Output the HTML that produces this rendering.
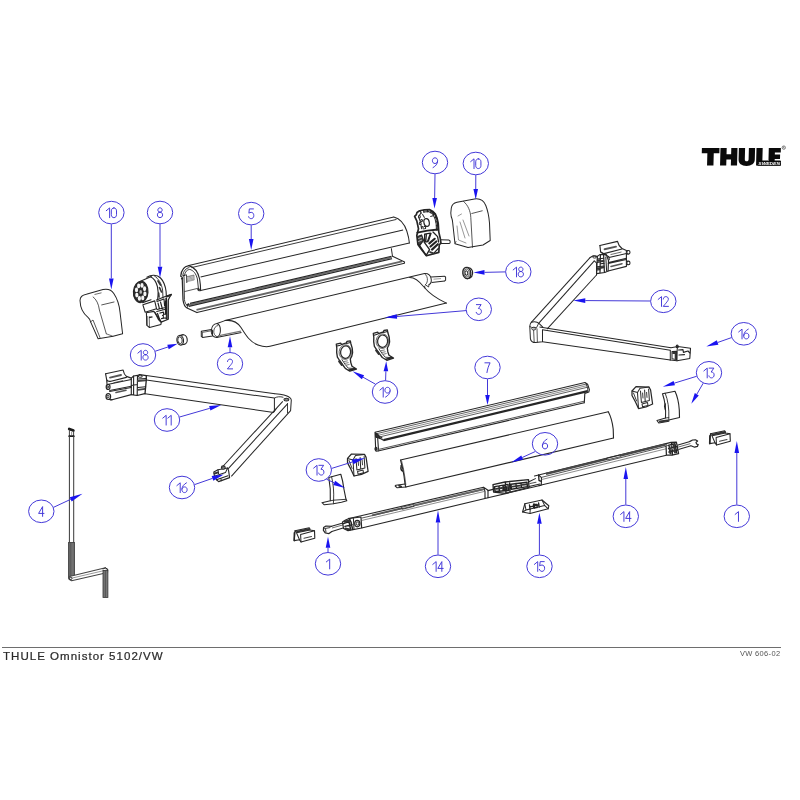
<!DOCTYPE html>
<html><head><meta charset="utf-8"><title>THULE Omnistor 5102/VW</title>
<style>
html,body{margin:0;padding:0;background:#fff;}
body{width:800px;height:800px;overflow:hidden;position:relative;font-family:"Liberation Sans",sans-serif;}
svg{position:absolute;left:0;top:0;display:block;filter:blur(0.3px);}
.cap{position:absolute;left:3px;top:651.3px;font-size:10.3px;line-height:12px;color:#2a2a2a;-webkit-text-stroke:0.2px #2a2a2a;letter-spacing:0.9px;white-space:nowrap;transform:scaleX(1.12);transform-origin:0 0;}
.code{position:absolute;left:740.3px;top:650px;font-size:6.8px;line-height:8px;color:#555;letter-spacing:0.3px;white-space:nowrap;transform:scaleX(1.1);transform-origin:0 0;}
</style></head><body>
<svg width="800" height="800" viewBox="0 0 800 800">
<g transform="translate(701.7 148.0) skewX(-1.5) translate(0.2 0)" fill="#0a0a0a">
<path d="M0 0H17.6V5.2H12V17.6H5.6V5.2H0Z"/>
<path d="M18.6 0H24.8V6.2H29.4V0H35.6V17.6H29.4V11.4H24.8V17.6H18.6Z"/>
<path d="M37 0H43.2V11.2C43.2 12.6 43.9 13.2 45.1 13.2C46.3 13.2 47 12.6 47 11.2V0H53.2V11.6C53.2 15.6 50.2 17.9 45.1 17.9C40 17.9 37 15.6 37 11.6Z"/>
<path d="M54.6 0H60.8V12.6H66.5V17.6H54.6Z"/>
<path d="M66.9 0H79V4.6H73.1V6.6H78.4V10.9H73.1V12.4H79V17.6H66.9Z"/>
<rect x="56" y="13.1" width="23.4" height="4.6" fill="#0a0a0a"/>
<text x="56.9" y="16.95" font-family="Liberation Sans, sans-serif" font-size="4.3" font-weight="bold" font-style="italic" fill="#fff" textLength="21.6" lengthAdjust="spacingAndGlyphs">SWEDEN</text>
</g>
<ellipse cx="783.8" cy="147.6" rx="1.7" ry="1.7" fill="none" stroke="#333" stroke-width="0.56"/>
<path d="M783.2 148.5v-1.8h0.7c0.5 0 0.5 0.8 0 0.8h-0.7m0.7 0l0.5 1" stroke="#333" stroke-width="0.35" fill="none"/>
<line x1="188.8" y1="265.6" x2="393.8" y2="216.9" stroke="#262626" stroke-width="1.01" />
<line x1="191.5" y1="267.6" x2="396.5" y2="219.4" stroke="#262626" stroke-width="0.9" />
<line x1="200.6" y1="276.9" x2="403.1" y2="230" stroke="#262626" stroke-width="1.01" />
<line x1="200.6" y1="290.6" x2="409.4" y2="243.1" stroke="#262626" stroke-width="1.01" />
<line x1="188.8" y1="306.2" x2="392" y2="258.6" stroke="#262626" stroke-width="1.46" />
<line x1="189.4" y1="304.9" x2="391.8" y2="257.4" stroke="#6a6a6a" stroke-width="1.79" />
<line x1="190" y1="303.4" x2="391.5" y2="256.2" stroke="#262626" stroke-width="1.12" />
<line x1="196.5" y1="309.8" x2="402" y2="261.4" stroke="#666" stroke-width="1.9" />
<line x1="196.9" y1="312.5" x2="404.4" y2="263.2" stroke="#262626" stroke-width="1.01" />
<path d="M393.8 216.9C400 218.5 404.5 224 406.8 231C408.4 236 409.2 240 409.4 243.1" fill="none" stroke="#262626" stroke-width="1.01" stroke-linejoin="round" stroke-linecap="round"/>
<line x1="391.3" y1="248.3" x2="392.5" y2="256.3" stroke="#262626" stroke-width="1.01" />
<path d="M392.5 256.3L404.6 262 404.4 263.2" fill="none" stroke="#262626" stroke-width="1.01" stroke-linejoin="round" stroke-linecap="round"/>
<path d="M188.8 265.6C184.5 266.3 181.2 270 180.7 276.3L182.2 277.2 183 300C183.6 304 185 307 187 308L196.9 312.5" fill="none" stroke="#262626" stroke-width="1.23" stroke-linejoin="round" stroke-linecap="round"/>
<path d="M189 267.6C186 268.2 183.3 271 182.8 275.6L184 276.4 184.4 299.6C184.9 302.6 185.8 304.6 187.2 305.6" fill="none" stroke="#262626" stroke-width="0.9" stroke-linejoin="round" stroke-linecap="round"/>
<path d="M188.8 265.6C194 267 198 271.5 199.6 279C200.3 283 200.6 287 200.6 290.6" fill="none" stroke="#262626" stroke-width="1.12" stroke-linejoin="round" stroke-linecap="round"/>
<path d="M184.4 275.8C185 271.5 187 269.8 189.8 269.4C193.5 270.5 196 273.5 197.4 279L198.4 288.4C198.6 290.8 199.6 291.6 200.6 290.6" fill="none" stroke="#262626" stroke-width="0.9" stroke-linejoin="round" stroke-linecap="round"/>
<line x1="182.8" y1="275.6" x2="186.5" y2="274.8" stroke="#262626" stroke-width="0.9" />
<line x1="186.5" y1="274.8" x2="186.8" y2="283" stroke="#262626" stroke-width="0.9" />
<line x1="181" y1="278.8" x2="183" y2="278.4" stroke="#262626" stroke-width="1.34" />
<line x1="187.3" y1="277" x2="193.8" y2="275.5" stroke="#555" stroke-width="0.56" />
<line x1="187.3" y1="278.2" x2="193.8" y2="276.7" stroke="#555" stroke-width="0.56" />
<line x1="187.3" y1="279.4" x2="193.8" y2="277.9" stroke="#555" stroke-width="0.56" />
<line x1="187.3" y1="280.6" x2="193.8" y2="279.1" stroke="#555" stroke-width="0.56" />
<polygon points="187,276.6 194,275 194.2,280 187.2,281.6" fill="none" stroke="#555" stroke-width="0.56" stroke-linejoin="round" stroke-linecap="round"/>
<line x1="184.4" y1="291.6" x2="198.4" y2="288.2" stroke="#262626" stroke-width="0.78" />
<ellipse cx="198.6" cy="289.6" rx="0.9" ry="1" fill="#333" stroke="#262626" stroke-width="0.9"/>
<line x1="186.6" y1="305.4" x2="189" y2="303.8" stroke="#262626" stroke-width="1.79" />
<line x1="187" y1="308" x2="189" y2="303.8" stroke="#262626" stroke-width="0.9" />
<polygon points="201.3,331.3 211.5,329.6 212.5,330.6 212.5,336 202.5,337.4 201.3,336.4" fill="none" stroke="#262626" stroke-width="1.01" stroke-linejoin="round" stroke-linecap="round"/>
<line x1="202.5" y1="332.4" x2="212.5" y2="330.6" stroke="#262626" stroke-width="0.67" />
<line x1="202.5" y1="332.4" x2="202.5" y2="337.4" stroke="#262626" stroke-width="0.67" />
<line x1="201.3" y1="331.3" x2="202.5" y2="332.4" stroke="#262626" stroke-width="0.67" />
<path d="M216.5 337.5C212.5 337 211 333.5 211.3 330.5C211.7 326.5 214 323.8 217 323.5L225 320.6" fill="none" stroke="#262626" stroke-width="1.01" stroke-linejoin="round" stroke-linecap="round"/>
<path d="M217.5 337C214.6 336 213.5 333.4 213.8 331C214.1 328 215.5 326 217.6 325.6" fill="none" stroke="#262626" stroke-width="0.78" stroke-linejoin="round" stroke-linecap="round"/>
<path d="M217 323.5C219.5 324.5 220.6 327.5 220.4 331C220.2 334 219 336.5 216.5 337.5" fill="none" stroke="#262626" stroke-width="1.01" stroke-linejoin="round" stroke-linecap="round"/>
<line x1="216.5" y1="337.5" x2="241.5" y2="332.6" stroke="#262626" stroke-width="1.01" />
<line x1="218" y1="335.8" x2="241" y2="331.2" stroke="#777" stroke-width="1.34" />
<line x1="225" y1="320.6" x2="407.5" y2="277.5" stroke="#262626" stroke-width="1.01" />
<path d="M225 320.6C232 319.6 237 321.5 241 327.5C246 335.5 250 342 258 345C263 346.8 267 347 270 346.3L446.4 303.1" fill="none" stroke="#262626" stroke-width="1.01" stroke-linejoin="round" stroke-linecap="round"/>
<path d="M409.5 277.6C415 277.4 419 281 423.7 286.8C428 292 434 297.6 446.4 303.1" fill="none" stroke="#262626" stroke-width="1.01" stroke-linejoin="round" stroke-linecap="round"/>
<path d="M407.5 277.5L424.5 273.6C428 273.4 430.6 275.6 431.2 279C431.6 281.6 430.8 283.8 429 284.6" fill="none" stroke="#262626" stroke-width="1.01" stroke-linejoin="round" stroke-linecap="round"/>
<path d="M424.5 273.6C426.6 275 427.6 277.6 427.4 280.4C427.2 282.6 426.4 284 425.4 284.8" fill="none" stroke="#262626" stroke-width="0.78" stroke-linejoin="round" stroke-linecap="round"/>
<line x1="431" y1="276.9" x2="444.6" y2="276.3" stroke="#262626" stroke-width="1.01" />
<line x1="431.6" y1="282.6" x2="444.8" y2="280.9" stroke="#262626" stroke-width="1.01" />
<polyline points="444.6,276.3 445.6,277 445.6,280.2 444.8,280.9" fill="none" stroke="#262626" stroke-width="1.01" stroke-linejoin="round" stroke-linecap="round"/>
<line x1="433.5" y1="279.2" x2="441" y2="278.6" stroke="#666" stroke-width="0.67" />
<path d="M425.4 284.8L428.6 287 429 284.6M424.6 286.2L425 288.2" fill="none" stroke="#262626" stroke-width="0.9" stroke-linejoin="round" stroke-linecap="round"/>
<path d="M80 300.6C80 296.5 83 294.8 86.3 294.2L103 289.6C108 288.6 111.5 290 113.8 293.5C117.5 299 119.3 305 120 312L122.6 333.8 113.1 336.3 98.1 338.8 90.6 321.9C90.3 319.5 89.5 318.5 88 317.3C83.5 314 80.3 309 80 300.6Z" fill="none" stroke="#262626" stroke-width="1.01" stroke-linejoin="round" stroke-linecap="round"/>
<path d="M93.1 296.9C96.5 299.5 98.6 304 99.4 310L106.3 333.8" fill="none" stroke="#262626" stroke-width="0.78" stroke-linejoin="round" stroke-linecap="round"/>
<line x1="101.3" y1="305" x2="114.4" y2="301.9" stroke="#262626" stroke-width="0.78" />
<line x1="94.5" y1="294.5" x2="101.5" y2="292.8" stroke="#262626" stroke-width="0.67" />
<path d="M90.6 321.9L93 320 100 337.6" fill="none" stroke="#262626" stroke-width="0.78" stroke-linejoin="round" stroke-linecap="round"/>
<line x1="106.3" y1="333.8" x2="113.1" y2="336.3" stroke="#262626" stroke-width="0.67" />
<path d="M451.3 208C451.8 204.5 454 203 457 202.3L474.5 198.9C480 198.2 483.8 200.5 485.8 205.5C488 211 489 217 489.5 223L490.2 240.5 483 245 468 247.6 455 243.8 452.6 222C452.5 219.5 451.8 218.5 451.2 216.5C450.6 214 450.8 211 451.3 208Z" fill="none" stroke="#262626" stroke-width="1.01" stroke-linejoin="round" stroke-linecap="round"/>
<path d="M463.5 201.4C468 205 470.5 211 470.8 217.5L472.5 247.3" fill="none" stroke="#262626" stroke-width="0.78" stroke-linejoin="round" stroke-linecap="round"/>
<line x1="471.4" y1="213.6" x2="482.6" y2="210.7" stroke="#262626" stroke-width="0.78" />
<path d="M458 216L461.5 214M460 222L465 238M463 220L469 236M457 226L458.5 240L466 243" fill="none" stroke="#666" stroke-width="0.67" stroke-linejoin="round" stroke-linecap="round"/>
<line x1="455" y1="243.8" x2="456.2" y2="241" stroke="#262626" stroke-width="0.67" />
<path d="M146.9 277.2C149.5 275.6 152 275.2 153.9 275.3C157 275.5 159 276.5 160.5 278C163.5 281 165.3 285.5 166.1 291.5L166.4 297" fill="none" stroke="#262626" stroke-width="1.12" stroke-linejoin="round" stroke-linecap="round"/>
<path d="M150.5 276.8C153.5 278 156 281.5 157.4 286.5C158.3 290 158.5 295 157.6 300" fill="none" stroke="#262626" stroke-width="1.12" stroke-linejoin="round" stroke-linecap="round"/>
<path d="M154.5 276C158.5 278.5 161.5 283.5 162.6 290L163 298" fill="none" stroke="#262626" stroke-width="0.9" stroke-linejoin="round" stroke-linecap="round"/>
<path d="M158 281L160.5 285M159.5 287.5L161.5 292M158.6 293L159 297" fill="none" stroke="#333" stroke-width="1.68" stroke-linejoin="round" stroke-linecap="round"/>
<path d="M139.9 281.4L151.3 276.6" fill="none" stroke="#262626" stroke-width="1.12" stroke-linejoin="round" stroke-linecap="round"/>
<path d="M142.6 302.6L151 299.8" fill="none" stroke="#262626" stroke-width="1.12" stroke-linejoin="round" stroke-linecap="round"/>
<ellipse cx="140.7" cy="291.9" rx="7.3" ry="10.7" fill="#2b2b2b" stroke="#262626" stroke-width="1.12" transform="rotate(4 140.7 291.9)"/>
<ellipse cx="144.9" cy="293.91" rx="1.6" ry="2.4" fill="#f6f6f6" stroke="none" stroke-width="0.0"/>
<ellipse cx="142.75" cy="297.91" rx="1.6" ry="2.4" fill="#f6f6f6" stroke="none" stroke-width="0.0"/>
<ellipse cx="139.4" cy="298.4" rx="1.6" ry="2.4" fill="#f6f6f6" stroke="none" stroke-width="0.0"/>
<ellipse cx="136.81" cy="295.07" rx="1.6" ry="2.4" fill="#f6f6f6" stroke="none" stroke-width="0.0"/>
<ellipse cx="136.5" cy="289.89" rx="1.6" ry="2.4" fill="#f6f6f6" stroke="none" stroke-width="0.0"/>
<ellipse cx="138.65" cy="285.89" rx="1.6" ry="2.4" fill="#f6f6f6" stroke="none" stroke-width="0.0"/>
<ellipse cx="142" cy="285.4" rx="1.6" ry="2.4" fill="#f6f6f6" stroke="none" stroke-width="0.0"/>
<ellipse cx="144.59" cy="288.73" rx="1.6" ry="2.4" fill="#f6f6f6" stroke="none" stroke-width="0.0"/>
<ellipse cx="140.7" cy="291.9" rx="1.3" ry="1.9" fill="#bbb" stroke="none" stroke-width="0.0"/>
<polygon points="142.9,304.8 154.7,300.9 156.5,308.7 145.1,312.2" fill="#fff" stroke="#262626" stroke-width="1.12" stroke-linejoin="round" stroke-linecap="round"/>
<polygon points="146.4,312.7 153.9,311.4 161.3,321.9 160.9,324.5 149.5,327.5 146.9,325.4" fill="#fff" stroke="#262626" stroke-width="1.12" stroke-linejoin="round" stroke-linecap="round"/>
<line x1="146.9" y1="325.4" x2="147" y2="316" stroke="#262626" stroke-width="0.9" />
<line x1="149.5" y1="327.5" x2="149.2" y2="316.5" stroke="#262626" stroke-width="0.67" />
<line x1="149" y1="317.5" x2="152.5" y2="316.8" stroke="#262626" stroke-width="1.34" />
<path d="M156.5 300L166.5 296 171.4 294.3 169.8 296.8 168.3 300 168.3 319.2 161.7 321.9" fill="none" stroke="#262626" stroke-width="1.23" stroke-linejoin="round" stroke-linecap="round"/>
<path d="M157 301.5L164 299M164 299L164.6 306M158 303L159.5 309M160.5 302L162.4 309M157 309.5L165.5 307.5M165.5 301L165.5 318" fill="none" stroke="#222" stroke-width="1.12" stroke-linejoin="round" stroke-linecap="round"/>
<path d="M166.2 298.5L166.8 318.6" fill="none" stroke="#222" stroke-width="1.79" stroke-linejoin="round" stroke-linecap="round"/>
<path d="M156.8 311.5L164.5 309.5M157.5 313.5L160 320.5M160 313L163.5 312.2 164 318 161.5 318.6M162.5 315.5L164 315.2" fill="none" stroke="#222" stroke-width="1.23" stroke-linejoin="round" stroke-linecap="round"/>
<path d="M155 312.5L158.5 319.5 161 322" fill="none" stroke="#262626" stroke-width="1.34" stroke-linejoin="round" stroke-linecap="round"/>
<path d="M163.3 314.3h3v3.6h-3z" fill="#fff" stroke="#262626" stroke-width="1.01" stroke-linejoin="round" stroke-linecap="round"/>
<path d="M167.5 296.3L170.6 295" fill="none" stroke="#262626" stroke-width="1.79" stroke-linejoin="round" stroke-linecap="round"/>
<path d="M419.6 210.8L417 212.5 416.4 214.6 414.6 216.4 416.8 220.9 418.5 228.8 416.8 235.5 417.9 244.5 421.5 249.5 426.4 255.8 438.8 252.4 439.3 244.5 441 243.4 440.2 238 438.8 232.1 438.2 223.1 437 218 435.4 214.1 433 211.5 429.8 209.6 424.5 209.8Z" fill="#fff" stroke="#262626" stroke-width="1.68" stroke-linejoin="round" stroke-linecap="round"/>
<path d="M421 213L418.6 216.6 420.4 222 421.6 228.6M423.5 212L428.5 211.6 432.6 213.8 435 218.5 436.2 224 436.5 230" fill="none" stroke="#333" stroke-width="1.12" stroke-linejoin="round" stroke-linecap="round"/>
<path d="M430.6 210.8L434.6 213.6 437 219 437.8 226 438.2 230" fill="none" stroke="#222" stroke-width="1.46" stroke-linejoin="round" stroke-linecap="round"/>
<path d="M420.5 211.5L421.2 213.2M423.6 210.4L424 212.2M427.4 210L427.6 211.8M431.2 211L430.8 212.8M434.2 213.4L433.2 214.8M436.2 217L435 218M437.4 221.4L436 222M437.8 225.4L436.4 225.8" fill="none" stroke="#222" stroke-width="1.12" stroke-linejoin="round" stroke-linecap="round"/>
<ellipse cx="426.6" cy="222.5" rx="2.7" ry="3.9" fill="#fff" stroke="#262626" stroke-width="1.23" transform="rotate(-10 426.6 222.5)"/>
<ellipse cx="419.4" cy="216.8" rx="0.9" ry="1.2" fill="#fff" stroke="#262626" stroke-width="1.01"/>
<ellipse cx="421.6" cy="220.6" rx="0.9" ry="1.2" fill="#fff" stroke="#262626" stroke-width="1.01"/>
<ellipse cx="420.2" cy="223.4" rx="0.9" ry="1.2" fill="#fff" stroke="#262626" stroke-width="1.01"/>
<path d="M421.4 227L423 226.6 423.2 229M424.4 226.6L425.6 226.4 425.6 228.6 424.6 228.8" fill="none" stroke="#222" stroke-width="1.01" stroke-linejoin="round" stroke-linecap="round"/>
<path d="M430.6 216.4L433 215.8M422.6 214.4L424.4 217.4" fill="none" stroke="#333" stroke-width="1.01" stroke-linejoin="round" stroke-linecap="round"/>
<path d="M417.3 232.6L427.4 230.6 438.2 229.5" fill="none" stroke="#222" stroke-width="1.79" stroke-linejoin="round" stroke-linecap="round"/>
<path d="M417.7 236.4L421.6 234.9 423.5 240.3 419.6 245.7 417.7 243.4Z" fill="#444" stroke="#222" stroke-width="1.12" stroke-linejoin="round" stroke-linecap="round"/>
<path d="M418.6 238.4L421.4 237.4M418.6 241.4L421.6 240.2" fill="none" stroke="#ddd" stroke-width="0.78" stroke-linejoin="round" stroke-linecap="round"/>
<path d="M424.6 234.2L430.4 233.2 427.4 241.8 424.6 241.8ZM426.4 234.4L425.8 241.4" fill="none" stroke="#222" stroke-width="1.23" stroke-linejoin="round" stroke-linecap="round"/>
<path d="M419.6 245.7L426.2 255.4M424 241.8L429.6 249.6 426.2 255.4M431 233.4L428.4 241" fill="none" stroke="#222" stroke-width="1.34" stroke-linejoin="round" stroke-linecap="round"/>
<path d="M429.3 243.4L434.7 238.8M430.5 246.5L436.3 241.5M432 249.6L437.8 244.2" fill="none" stroke="#222" stroke-width="2.13" stroke-linejoin="round" stroke-linecap="round"/>
<path d="M433 232L437.6 236.6 438.6 242M434.6 252.4L438.4 248.4" fill="none" stroke="#222" stroke-width="1.34" stroke-linejoin="round" stroke-linecap="round"/>
<path d="M430 252L433.6 253.4" fill="none" stroke="#333" stroke-width="1.79" stroke-linejoin="round" stroke-linecap="round"/>
<polyline points="440.4,239.8 449,240.1 450.1,241 450.1,242.8 449,243.6 440.4,243.4" fill="none" stroke="#262626" stroke-width="1.01" stroke-linejoin="round" stroke-linecap="round"/>
<ellipse cx="183.3" cy="339.6" rx="3.9" ry="4.9" fill="#fff" stroke="#262626" stroke-width="1.12" transform="rotate(-10 183.3 339.6)"/>
<path d="M183.3 334.7L180 335.4M183.6 344.5L180.5 345" fill="none" stroke="#262626" stroke-width="1.01" stroke-linejoin="round" stroke-linecap="round"/>
<ellipse cx="180.2" cy="340.2" rx="3.3" ry="4.8" fill="#fff" stroke="#262626" stroke-width="1.12" transform="rotate(-8 180.2 340.2)"/>
<ellipse cx="180" cy="340.2" rx="2.2" ry="3.4" fill="#fff" stroke="#262626" stroke-width="0.9" transform="rotate(-8 180 340.2)"/>
<path d="M467.4 267.4L470.4 268.2C472 269.4 472.8 271.4 472.6 273.6C472.4 275.6 471.4 277.2 470 278L467.4 278.8" fill="none" stroke="#262626" stroke-width="1.12" stroke-linejoin="round" stroke-linecap="round"/>
<ellipse cx="466.8" cy="273" rx="4" ry="5.7" fill="#fff" stroke="#262626" stroke-width="1.34" transform="rotate(-8 466.8 273)"/>
<ellipse cx="466.6" cy="273" rx="2.7" ry="4.1" fill="#fff" stroke="#444" stroke-width="0.9" transform="rotate(-8 466.6 273)"/>
<ellipse cx="466.4" cy="273" rx="1.4" ry="2.3" fill="#fff" stroke="#262626" stroke-width="1.01" transform="rotate(-8 466.4 273)"/>
<polygon points="336.3,344.2 340.8,343.1 341.3,344.6 346.4,342.9 346.95,341.4 350.3,340.85 350.9,343.7 352.2,348.1 352.6,352.7 351.8,356.1 350.3,358.85 350.8,362.6 352,366.2 356.5,369 349.8,371.2 345.3,368.4 342.45,364.5 339.6,360.5 337.4,357.2 336.7,352.6 336.8,348.2" fill="#fff" stroke="#262626" stroke-width="1.34" stroke-linejoin="round" stroke-linecap="round"/>
<ellipse cx="345.6" cy="352.1" rx="5" ry="6.2" fill="none" stroke="#262626" stroke-width="1.23" transform="rotate(6 345.6 352.1)"/>
<ellipse cx="345.3" cy="352.1" rx="6.2" ry="7.3" fill="none" stroke="#444" stroke-width="0.78" transform="rotate(6 345.3 352.1)"/>
<path d="M337 346.1L340.4 345.2M346.6 343.5L350.4 342.5" fill="none" stroke="#262626" stroke-width="1.01" stroke-linejoin="round" stroke-linecap="round"/>
<path d="M342 359.7L345.2 364.5 348.2 368.1 354.2 368.5" fill="none" stroke="#262626" stroke-width="0.9" stroke-linejoin="round" stroke-linecap="round"/>
<path d="M344.2 361.5L347.4 360.9M345.2 363.3L348.2 362.7M346.4 365.1L349.2 364.5" fill="none" stroke="#555" stroke-width="0.78" stroke-linejoin="round" stroke-linecap="round"/>
<path d="M339.2 361.3L341.8 364.7" fill="none" stroke="#333" stroke-width="2.24" stroke-linejoin="round" stroke-linecap="round"/>
<path d="M349 370.1L354.6 368.7" fill="none" stroke="#262626" stroke-width="1.68" stroke-linejoin="round" stroke-linecap="round"/>
<polygon points="373.3,333.3 377.8,332.2 378.3,333.7 383.4,332 383.95,330.5 387.3,329.95 387.9,332.8 389.2,337.2 389.6,341.8 388.8,345.2 387.3,347.95 387.8,351.7 389,355.3 393.5,358.1 386.8,360.3 382.3,357.5 379.45,353.6 376.6,349.6 374.4,346.3 373.7,341.7 373.8,337.3" fill="#fff" stroke="#262626" stroke-width="1.34" stroke-linejoin="round" stroke-linecap="round"/>
<ellipse cx="382.6" cy="341.2" rx="5" ry="6.2" fill="none" stroke="#262626" stroke-width="1.23" transform="rotate(6 382.6 341.2)"/>
<ellipse cx="382.3" cy="341.2" rx="6.2" ry="7.3" fill="none" stroke="#444" stroke-width="0.78" transform="rotate(6 382.3 341.2)"/>
<path d="M374 335.2L377.4 334.3M383.6 332.6L387.4 331.6" fill="none" stroke="#262626" stroke-width="1.01" stroke-linejoin="round" stroke-linecap="round"/>
<path d="M379 348.8L382.2 353.6 385.2 357.2 391.2 357.6" fill="none" stroke="#262626" stroke-width="0.9" stroke-linejoin="round" stroke-linecap="round"/>
<path d="M381.2 350.6L384.4 350M382.2 352.4L385.2 351.8M383.4 354.2L386.2 353.6" fill="none" stroke="#555" stroke-width="0.78" stroke-linejoin="round" stroke-linecap="round"/>
<path d="M376.2 350.4L378.8 353.8" fill="none" stroke="#333" stroke-width="2.24" stroke-linejoin="round" stroke-linecap="round"/>
<path d="M386 359.2L391.6 357.8" fill="none" stroke="#262626" stroke-width="1.68" stroke-linejoin="round" stroke-linecap="round"/>
<path d="M105.6 373.8L123.1 370C123.6 372.6 124.6 375 126.4 376.4L131.3 378.1 131.3 394.6 112 399.8" fill="#fff" stroke="#262626" stroke-width="1.12" stroke-linejoin="round" stroke-linecap="round"/>
<path d="M105.6 373.8L106.6 379.4C107.6 381.4 109.4 381.6 111 381.2L126.4 377.4M106.6 379.4L107 383.6" fill="none" stroke="#262626" stroke-width="1.12" stroke-linejoin="round" stroke-linecap="round"/>
<path d="M110 377.6L121 375" fill="none" stroke="#555" stroke-width="1.9" stroke-linejoin="round" stroke-linecap="round"/>
<line x1="113.5" y1="382.8" x2="123" y2="380.6" stroke="#262626" stroke-width="0.67" />
<path d="M108.6 384.2L131.3 379.4M109.6 390.4L131.3 386.2" fill="none" stroke="#262626" stroke-width="1.01" stroke-linejoin="round" stroke-linecap="round"/>
<ellipse cx="108.1" cy="386.9" rx="1.9" ry="2.5" fill="#fff" stroke="#262626" stroke-width="1.23"/>
<ellipse cx="107.8" cy="386.9" rx="0.8" ry="1.1" fill="none" stroke="#262626" stroke-width="0.9"/>
<path d="M109.6 391.6L131.3 387.4M110.4 400L112 399.8" fill="none" stroke="#262626" stroke-width="1.01" stroke-linejoin="round" stroke-linecap="round"/>
<path d="M116 392.5L126 390.3" fill="none" stroke="#555" stroke-width="1.57" stroke-linejoin="round" stroke-linecap="round"/>
<ellipse cx="108.3" cy="396.6" rx="2.3" ry="2.9" fill="#fff" stroke="#262626" stroke-width="1.23"/>
<ellipse cx="108" cy="396.6" rx="1" ry="1.3" fill="none" stroke="#262626" stroke-width="0.9"/>
<path d="M108.6 399.5L112 399.8" fill="none" stroke="#262626" stroke-width="1.01" stroke-linejoin="round" stroke-linecap="round"/>
<path d="M131.3 378.1L133.6 376 137.5 375.4 139.6 374.6 146.3 375.6" fill="none" stroke="#262626" stroke-width="1.12" stroke-linejoin="round" stroke-linecap="round"/>
<ellipse cx="140.3" cy="376.2" rx="1.9" ry="1.1" fill="none" stroke="#262626" stroke-width="1.01"/>
<path d="M133.6 376L133.6 394M137.5 375.6L137.2 395.5M131.3 394.6L137.2 395.5 144.8 393.6M131.3 385.5L137.4 384.5M138 379L146 378.6M138 387.5L145.6 386.8" fill="none" stroke="#262626" stroke-width="1.12" stroke-linejoin="round" stroke-linecap="round"/>
<path d="M137.8 381L145.5 380.4M137.8 389.8L145 388.9" fill="none" stroke="#444" stroke-width="1.79" stroke-linejoin="round" stroke-linecap="round"/>
<path d="M146.3 375.6L146.3 380 145 393.8" fill="none" stroke="#262626" stroke-width="1.34" stroke-linejoin="round" stroke-linecap="round"/>
<line x1="146.3" y1="375.6" x2="275" y2="393.8" stroke="#262626" stroke-width="1.01" />
<line x1="146.3" y1="380" x2="274.4" y2="398.1" stroke="#262626" stroke-width="1.01" />
<line x1="145" y1="393.8" x2="273.8" y2="412.5" stroke="#262626" stroke-width="1.01" />
<path d="M275 393.8C281 394.4 286.5 395.3 289 397C290.6 398 291.3 399 291.3 400L290.6 410.6" fill="none" stroke="#262626" stroke-width="1.01" stroke-linejoin="round" stroke-linecap="round"/>
<path d="M274.4 398.1C277 396.5 280 396.4 283 397.2" fill="none" stroke="#262626" stroke-width="0.9" stroke-linejoin="round" stroke-linecap="round"/>
<line x1="274.4" y1="398.1" x2="274.4" y2="411.4" stroke="#262626" stroke-width="1.01" />
<line x1="287.5" y1="403" x2="287.5" y2="413.4" stroke="#262626" stroke-width="0.9" />
<ellipse cx="286.4" cy="399.6" rx="2.4" ry="1.4" fill="none" stroke="#262626" stroke-width="1.01"/>
<ellipse cx="286.4" cy="399.6" rx="1.1" ry="0.6" fill="none" stroke="#262626" stroke-width="0.78"/>
<line x1="282.8" y1="401.3" x2="221.9" y2="467.5" stroke="#262626" stroke-width="1.01" />
<line x1="287.5" y1="403.8" x2="227.6" y2="469.3" stroke="#262626" stroke-width="1.01" />
<line x1="290.6" y1="410.6" x2="231.3" y2="476.3" stroke="#262626" stroke-width="1.01" />
<line x1="273.8" y1="412.5" x2="276.5" y2="408.3" stroke="#262626" stroke-width="0.9" />
<polygon points="213.8,471.9 218,469.8 227.5,468 228.6,470.6 229.6,477.6 218.6,481.6 216.5,479.8 214.4,476.2" fill="#fff" stroke="#262626" stroke-width="1.12" stroke-linejoin="round" stroke-linecap="round"/>
<path d="M214.4 476.2L225.5 472.6 227.5 468M216.5 479.8L228 475.8M218 469.8L218.6 473.6M221 478.5L221.2 480.7" fill="none" stroke="#262626" stroke-width="1.01" stroke-linejoin="round" stroke-linecap="round"/>
<path d="M214.6 473.5L217.5 472.6" fill="none" stroke="#333" stroke-width="2.02" stroke-linejoin="round" stroke-linecap="round"/>
<ellipse cx="223.3" cy="467.6" rx="1.9" ry="1.7" fill="#fff" stroke="#262626" stroke-width="1.12"/>
<ellipse cx="223.3" cy="467.4" rx="0.8" ry="0.7" fill="none" stroke="#262626" stroke-width="0.9"/>
<path d="M599.9 245.5L617.5 241.4C618 244 619.6 246.6 622 248.5L626.4 250.4 626.4 266.4 608.1 271" fill="#fff" stroke="#262626" stroke-width="1.12" stroke-linejoin="round" stroke-linecap="round"/>
<path d="M599.9 245.5L600.6 251.9C602 253.4 603.6 253.8 605 253.4L622 249" fill="none" stroke="#262626" stroke-width="1.12" stroke-linejoin="round" stroke-linecap="round"/>
<path d="M600.6 251.9L604.8 254.5 608.9 256.8 609.3 259.8" fill="none" stroke="#262626" stroke-width="1.01" stroke-linejoin="round" stroke-linecap="round"/>
<path d="M604.6 249.2L616 246.6" fill="none" stroke="#555" stroke-width="1.9" stroke-linejoin="round" stroke-linecap="round"/>
<line x1="610.5" y1="254.6" x2="621.5" y2="252" stroke="#262626" stroke-width="0.67" />
<path d="M609 257.6L626.4 253.4M608.5 262.4L626.4 258.2M608.3 263.6L626.4 259.6" fill="none" stroke="#262626" stroke-width="1.01" stroke-linejoin="round" stroke-linecap="round"/>
<path d="M611 266.4L622 263.8" fill="none" stroke="#555" stroke-width="1.57" stroke-linejoin="round" stroke-linecap="round"/>
<ellipse cx="628.4" cy="252.3" rx="1.6" ry="1.8" fill="#fff" stroke="#262626" stroke-width="1.12"/>
<line x1="626.4" y1="250.8" x2="628.2" y2="250.5" stroke="#262626" stroke-width="0.9" />
<line x1="626.4" y1="254.2" x2="628.4" y2="254" stroke="#262626" stroke-width="0.9" />
<ellipse cx="628.4" cy="262.9" rx="1.6" ry="1.8" fill="#fff" stroke="#262626" stroke-width="1.12"/>
<line x1="626.4" y1="261.4" x2="628.2" y2="261.1" stroke="#262626" stroke-width="0.9" />
<line x1="626.4" y1="264.8" x2="628.4" y2="264.6" stroke="#262626" stroke-width="0.9" />
<path d="M589.8 257.8L593.2 255.8 597.4 256.4 599.8 254.6 606.3 254.5 608.5 260.5 608.1 271 604.8 272.5 596.6 273.6" fill="none" stroke="#262626" stroke-width="1.12" stroke-linejoin="round" stroke-linecap="round"/>
<ellipse cx="594.6" cy="257" rx="1.9" ry="1.1" fill="none" stroke="#262626" stroke-width="0.9"/>
<path d="M597.4 256.4L597 264 596.6 273.6M600.4 255L600 272.6M603.6 254.8L604.4 272.4" fill="none" stroke="#262626" stroke-width="1.23" stroke-linejoin="round" stroke-linecap="round"/>
<path d="M597.4 259L603.6 258.2M597.2 262.4L600 262M600.6 263.8L604 263.4M597 266.8L604 266M597 270L600 269.6" fill="none" stroke="#262626" stroke-width="1.12" stroke-linejoin="round" stroke-linecap="round"/>
<path d="M598 260.6L599.6 260.4M601 261.2L603.4 261M597.8 268.4L599.6 268.2M601.2 267.6L603.6 267.2" fill="none" stroke="#333" stroke-width="2.13" stroke-linejoin="round" stroke-linecap="round"/>
<path d="M605.8 257L606.6 270.6" fill="none" stroke="#262626" stroke-width="1.01" stroke-linejoin="round" stroke-linecap="round"/>
<line x1="589.8" y1="257.8" x2="531.3" y2="322.3" stroke="#262626" stroke-width="1.01" />
<line x1="594.3" y1="260.8" x2="538.6" y2="323.4" stroke="#262626" stroke-width="1.01" />
<line x1="596.5" y1="275" x2="547" y2="329.2" stroke="#262626" stroke-width="1.01" />
<path d="M594.3 260.8L596.5 263 596.5 275" fill="none" stroke="#262626" stroke-width="1.01" stroke-linejoin="round" stroke-linecap="round"/>
<path d="M531.3 322.3C530 324 529.7 325 529.8 326.5L530.4 338.6C530.8 341.2 533 342.6 535.6 342.6L542.5 341.8 542.5 329.8" fill="none" stroke="#262626" stroke-width="1.01" stroke-linejoin="round" stroke-linecap="round"/>
<path d="M531.3 322.3C534.5 321 537.5 322 539.5 323.8L542.8 327.2" fill="none" stroke="#262626" stroke-width="1.01" stroke-linejoin="round" stroke-linecap="round"/>
<path d="M529.8 326.5C532 328 534.5 328.3 536.6 327.6L538.6 323.4" fill="none" stroke="#262626" stroke-width="0.9" stroke-linejoin="round" stroke-linecap="round"/>
<ellipse cx="533.8" cy="328.6" rx="2.1" ry="1.4" fill="none" stroke="#262626" stroke-width="0.9"/>
<line x1="533.6" y1="330" x2="534.2" y2="342.4" stroke="#262626" stroke-width="0.78" />
<line x1="537" y1="328.5" x2="537.4" y2="342.4" stroke="#262626" stroke-width="0.78" />
<line x1="539.5" y1="327" x2="671" y2="347.7" stroke="#262626" stroke-width="1.01" />
<line x1="542.5" y1="329.8" x2="670.3" y2="350.3" stroke="#262626" stroke-width="1.01" />
<line x1="542.5" y1="341.8" x2="670.3" y2="360" stroke="#262626" stroke-width="1.01" />
<polyline points="671,347.7 677.8,346.5 690.5,348.3 689.8,358.5 677,360.8 670.3,360" fill="none" stroke="#262626" stroke-width="1.12" stroke-linejoin="round" stroke-linecap="round"/>
<path d="M670.3 350.3L670.3 360M677.8 346.5L677.2 349 677 360.8M672 351.5L676.5 351.2 676.4 359.5 672 358.8Z" fill="none" stroke="#262626" stroke-width="1.01" stroke-linejoin="round" stroke-linecap="round"/>
<path d="M673 353L675.6 353 675.6 358" fill="none" stroke="#333" stroke-width="1.79" stroke-linejoin="round" stroke-linecap="round"/>
<path d="M678.5 350L683 349.6 683.4 352.4 688 351 689.9 353M679 355L684.5 354.6" fill="none" stroke="#262626" stroke-width="1.12" stroke-linejoin="round" stroke-linecap="round"/>
<ellipse cx="677.2" cy="346.4" rx="1" ry="1.3" fill="none" stroke="#262626" stroke-width="1.12"/>
<line x1="375" y1="432.3" x2="585" y2="382.5" stroke="#262626" stroke-width="1.12" />
<line x1="376.5" y1="433.7" x2="586" y2="384.1" stroke="#333" stroke-width="0.78" />
<line x1="378.3" y1="435.25" x2="586.8" y2="385.65" stroke="#555" stroke-width="0.67" />
<line x1="380.1" y1="436.8" x2="587.6" y2="387.2" stroke="#333" stroke-width="0.78" />
<line x1="383.5" y1="440.2" x2="587.6" y2="391.2" stroke="#262626" stroke-width="2.24" />
<line x1="378" y1="451" x2="584.3" y2="402.7" stroke="#262626" stroke-width="1.12" />
<line x1="378.6" y1="449.4" x2="584.3" y2="401.2" stroke="#262626" stroke-width="0.78" />
<path d="M375 432.3L375.8 436 378.5 437.4 383.5 440.2M375 432.3L375.6 447.5C375.2 449 375.2 450.4 376 451.2L378 451M377.6 437L378.4 448.6 378 451" fill="none" stroke="#262626" stroke-width="1.12" stroke-linejoin="round" stroke-linecap="round"/>
<path d="M375.6 432.8L378 434.4 379.6 437.6 376 437.4Z" fill="#333" stroke="#262626" stroke-width="1.01" stroke-linejoin="round" stroke-linecap="round"/>
<path d="M376 434L382 438M376.2 436.5L379.8 438.6" fill="none" stroke="#262626" stroke-width="1.12" stroke-linejoin="round" stroke-linecap="round"/>
<ellipse cx="376" cy="448.8" rx="1" ry="1.5" fill="#333" stroke="#262626" stroke-width="1.12"/>
<path d="M585 382.5L587.6 384.3 589.4 389.6 588.8 392 584.8 393.6 584.3 402.7" fill="none" stroke="#262626" stroke-width="1.12" stroke-linejoin="round" stroke-linecap="round"/>
<path d="M586.2 383.6L587.8 389 587.6 391.2" fill="none" stroke="#262626" stroke-width="0.9" stroke-linejoin="round" stroke-linecap="round"/>
<line x1="400.5" y1="460" x2="608.3" y2="411.7" stroke="#262626" stroke-width="1.12" />
<line x1="405.8" y1="487" x2="613.5" y2="438" stroke="#262626" stroke-width="1.12" />
<path d="M608.3 411.7C610.6 416 612.4 422 613.2 429L613.5 438" fill="none" stroke="#262626" stroke-width="1.12" stroke-linejoin="round" stroke-linecap="round"/>
<path d="M400.5 460C402 465 403.2 470 404 476L405 484 405.8 487" fill="none" stroke="#262626" stroke-width="1.12" stroke-linejoin="round" stroke-linecap="round"/>
<path d="M405 484L396 485.2 395.2 486 397.2 487.8 405.8 487" fill="none" stroke="#262626" stroke-width="1.12" stroke-linejoin="round" stroke-linecap="round"/>
<path d="M400.8 468L401.6 470.4 402.6 471M401.2 465.4L401 469.2" fill="none" stroke="#262626" stroke-width="1.46" stroke-linejoin="round" stroke-linecap="round"/>
<path d="M399 485.6L401.2 486.6" fill="none" stroke="#333" stroke-width="1.79" stroke-linejoin="round" stroke-linecap="round"/>
<path d="M401.6 460.8C403 466 404.2 472 405 478L405.8 484.5" fill="none" stroke="#262626" stroke-width="0.67" stroke-linejoin="round" stroke-linecap="round"/>
<path d="M331.6 526.4L326 526 323.6 527.6 323.4 530.4 325.4 533 329 533.6 331.8 531.6" fill="none" stroke="#262626" stroke-width="1.23" stroke-linejoin="round" stroke-linecap="round"/>
<path d="M324.6 528.6L330 527.6M325.6 529.4L326 532.4" fill="none" stroke="#262626" stroke-width="0.9" stroke-linejoin="round" stroke-linecap="round"/>
<line x1="331.6" y1="526.2" x2="344.6" y2="522.6" stroke="#262626" stroke-width="1.01" />
<line x1="331.8" y1="531.4" x2="344.6" y2="527.6" stroke="#262626" stroke-width="1.01" />
<line x1="332" y1="528" x2="344" y2="524.6" stroke="#262626" stroke-width="0.67" />
<polygon points="342.5,522 345.6,520 349,518.5 361,517 361.6,528 348,530.6 343.5,528.5" fill="#fff" stroke="#262626" stroke-width="1.23" stroke-linejoin="round" stroke-linecap="round"/>
<path d="M343.4 523.6L349 521.6 350.6 529.6M345 526.4L352 524.6M349 518.5L351 522 352.6 529.4" fill="none" stroke="#222" stroke-width="1.46" stroke-linejoin="round" stroke-linecap="round"/>
<path d="M344.6 521.6L350 520.4M345.4 528.6L350 529.4" fill="none" stroke="#333" stroke-width="2.02" stroke-linejoin="round" stroke-linecap="round"/>
<ellipse cx="357.3" cy="523.6" rx="2.6" ry="3.2" fill="#fff" stroke="#262626" stroke-width="1.23"/>
<ellipse cx="357.5" cy="523.6" rx="1.2" ry="1.6" fill="none" stroke="#262626" stroke-width="0.9"/>
<path d="M353.4 518.4L354 529" fill="none" stroke="#262626" stroke-width="1.01" stroke-linejoin="round" stroke-linecap="round"/>
<line x1="349" y1="518.5" x2="361" y2="515.8" stroke="#262626" stroke-width="1.12" />
<line x1="361" y1="515.8" x2="483.5" y2="487.3" stroke="#262626" stroke-width="1.12" />
<line x1="361.6" y1="528" x2="485" y2="498.5" stroke="#262626" stroke-width="1.12" />
<line x1="362" y1="518" x2="484" y2="489.6" stroke="#262626" stroke-width="0.78" />
<line x1="372" y1="515.3" x2="402" y2="508.2" stroke="#555" stroke-width="1.79" />
<line x1="414" y1="505.4" x2="483" y2="489.1" stroke="#666" stroke-width="1.79" />
<path d="M402 507.2L413.6 504.4 414 506.4 402.6 509.2Z" fill="none" stroke="#262626" stroke-width="0.78" stroke-linejoin="round" stroke-linecap="round"/>
<line x1="362" y1="520.4" x2="484.6" y2="491.4" stroke="#555" stroke-width="0.67" />
<path d="M483.5 487.3L488 490.3 488 497.8 485 498.5 485 491.4 483.5 487.3" fill="none" stroke="#262626" stroke-width="1.12" stroke-linejoin="round" stroke-linecap="round"/>
<path d="M488 490.6L493 489.4M488 497.8L541 485.2" fill="none" stroke="#262626" stroke-width="1.12" stroke-linejoin="round" stroke-linecap="round"/>
<polygon points="493,484.6 505,482 528.5,479.6 529,487.4 505,493.4 493.6,492" fill="#fff" stroke="#262626" stroke-width="1.34" stroke-linejoin="round" stroke-linecap="round"/>
<path d="M494.6 486.6L508 484.4 508.4 490.4 495 491.4ZM499 486L499.4 491M503 485.4L503.4 490.8M511 484.2L527 482.2 527.4 486.6 511.4 489.2ZM516 483.6L516.4 488.2M521 483L521.4 487.4M505.4 482.4L506 492.6M509.6 483L510 491.4" fill="none" stroke="#222" stroke-width="1.46" stroke-linejoin="round" stroke-linecap="round"/>
<path d="M496 488.8L502 488M512.6 486.6L520 485.6M522.6 484.8L526.4 484.4" fill="none" stroke="#333" stroke-width="1.79" stroke-linejoin="round" stroke-linecap="round"/>
<path d="M503.4 487h3.4v3.2h-3.4z" fill="#333" stroke="#222" stroke-width="1.68" stroke-linejoin="round" stroke-linecap="round"/>
<path d="M529 481.8L535.4 478.6M529 486.6L540 484" fill="none" stroke="#262626" stroke-width="1.01" stroke-linejoin="round" stroke-linecap="round"/>
<path d="M530 483.6L536 482.2" fill="none" stroke="#555" stroke-width="1.01" stroke-linejoin="round" stroke-linecap="round"/>
<path d="M534.5 476L538.6 475 541.5 477.6 541.3 485 539 485.6" fill="none" stroke="#262626" stroke-width="1.12" stroke-linejoin="round" stroke-linecap="round"/>
<path d="M538.6 475L539 480.5 541.4 481.4" fill="none" stroke="#262626" stroke-width="1.34" stroke-linejoin="round" stroke-linecap="round"/>
<line x1="538.6" y1="475" x2="666" y2="443.6" stroke="#262626" stroke-width="1.12" />
<line x1="541.3" y1="485" x2="666.4" y2="455.2" stroke="#262626" stroke-width="1.12" />
<line x1="541.4" y1="477.4" x2="666" y2="446.4" stroke="#262626" stroke-width="0.78" />
<line x1="546" y1="473.8" x2="607" y2="459" stroke="#484848" stroke-width="2.24" />
<line x1="621" y1="455.4" x2="665" y2="444.7" stroke="#484848" stroke-width="2.24" />
<path d="M607 458L620.4 454.8 620.8 456.6 607.6 459.8Z" fill="none" stroke="#262626" stroke-width="0.78" stroke-linejoin="round" stroke-linecap="round"/>
<line x1="541.4" y1="479.6" x2="666" y2="448.8" stroke="#555" stroke-width="0.67" />
<polygon points="666,443.6 671,442.4 676.4,442.2 678.6,453.6 672,455.2 666.4,455.2" fill="#fff" stroke="#262626" stroke-width="1.23" stroke-linejoin="round" stroke-linecap="round"/>
<path d="M668 445.4L675 443.8 676.6 452.6M668.6 448.6L677 446.6M669 452L677.6 450M671.6 443L672.4 454.6" fill="none" stroke="#222" stroke-width="1.46" stroke-linejoin="round" stroke-linecap="round"/>
<path d="M669.4 446.6L670.4 453.4M673.8 445L675 452.4" fill="none" stroke="#333" stroke-width="2.02" stroke-linejoin="round" stroke-linecap="round"/>
<line x1="677.2" y1="445.2" x2="690" y2="441.4" stroke="#262626" stroke-width="1.01" />
<line x1="678.4" y1="449.6" x2="691" y2="445.8" stroke="#262626" stroke-width="1.01" />
<line x1="677.8" y1="447.2" x2="690.4" y2="443.6" stroke="#262626" stroke-width="0.67" />
<path d="M690 441.4L692.6 440 695.4 439.8 697.6 441 696 442.4 696.6 444 698.2 444.6 697.4 446.4 694.6 447.2 691 445.8" fill="none" stroke="#262626" stroke-width="1.23" stroke-linejoin="round" stroke-linecap="round"/>
<polygon points="524.8,503.8 542,500 548.8,505.8 548.2,508.8 530,513.5 522.6,512" fill="#fff" stroke="#262626" stroke-width="1.12" stroke-linejoin="round" stroke-linecap="round"/>
<path d="M524.8 503.8L526 510 522.6 512M526 510L544.6 505.4 542 500M544.6 505.4L548.2 508.8M530 513.5L530.2 509" fill="none" stroke="#262626" stroke-width="1.01" stroke-linejoin="round" stroke-linecap="round"/>
<path d="M529.5 505L530 509.2M534 504L534.6 508M538.6 503L539.2 507M530 506.8L539 504.8" fill="none" stroke="#222" stroke-width="1.34" stroke-linejoin="round" stroke-linecap="round"/>
<path d="M533.5 504.4h3.6v3.2h-3.6z" fill="none" stroke="#222" stroke-width="1.34" stroke-linejoin="round" stroke-linecap="round"/>
<polygon points="295,530.8 309.3,527.8 310,530 314.5,530.8 314.8,538.3 301,542 299.5,539.8 294.2,540.6" fill="#fff" stroke="#262626" stroke-width="1.12" stroke-linejoin="round" stroke-linecap="round"/>
<path d="M295 530.8L296.5 532.8 310 530M296.5 532.8L299.5 539.8M300.6 534.4L314.5 530.8M300.6 534.4L301 542" fill="none" stroke="#262626" stroke-width="1.01" stroke-linejoin="round" stroke-linecap="round"/>
<path d="M297 531.6L309.5 529" fill="none" stroke="#333" stroke-width="1.79" stroke-linejoin="round" stroke-linecap="round"/>
<path d="M304 538.3L311.5 536.4" fill="none" stroke="#444" stroke-width="1.01" stroke-linejoin="round" stroke-linecap="round"/>
<path d="M294.4 532.8L294.2 540.6" fill="none" stroke="#262626" stroke-width="1.57" stroke-linejoin="round" stroke-linecap="round"/>
<polygon points="710.5,433.8 724.8,430.8 725.5,433 730,433.8 730.3,441.3 716.5,445 715,442.8 709.7,443.6" fill="#fff" stroke="#262626" stroke-width="1.12" stroke-linejoin="round" stroke-linecap="round"/>
<path d="M710.5 433.8L712 435.8 725.5 433M712 435.8L715 442.8M716.1 437.4L730 433.8M716.1 437.4L716.5 445" fill="none" stroke="#262626" stroke-width="1.01" stroke-linejoin="round" stroke-linecap="round"/>
<path d="M712.5 434.6L725 432" fill="none" stroke="#333" stroke-width="1.79" stroke-linejoin="round" stroke-linecap="round"/>
<path d="M719.5 441.3L727 439.4" fill="none" stroke="#444" stroke-width="1.01" stroke-linejoin="round" stroke-linecap="round"/>
<path d="M709.9 435.8L709.7 443.6" fill="none" stroke="#262626" stroke-width="1.57" stroke-linejoin="round" stroke-linecap="round"/>
<polygon points="347.5,458.4 351.5,454 364.5,454.4 366.1,457.4 368.1,471.4 361.5,474.4 354,476 351,469.4 347.5,462.9" fill="#fff" stroke="#262626" stroke-width="1.23" stroke-linejoin="round" stroke-linecap="round"/>
<path d="M347.5 458.4L353 460 354 476M353 460L355.5 455.6 364.5 454.4M356 458.4L356.9 469.9 364.9 468 364.1 456.4M360.1 457.4L360.7 468.8" fill="none" stroke="#2a2a2a" stroke-width="1.01" stroke-linejoin="round" stroke-linecap="round"/>
<path d="M357.5 471.4L363 470 363.5 472.8 358.1 474.2Z" fill="none" stroke="#2a2a2a" stroke-width="1.01" stroke-linejoin="round" stroke-linecap="round"/>
<path d="M349 460.4L352.1 468.4M358.1 460.4L358.5 465.4M362.1 459.8L362.5 464.8" fill="none" stroke="#262626" stroke-width="0.9" stroke-linejoin="round" stroke-linecap="round"/>
<polygon points="632,391 636,386.6 649,387 650.6,390 652.6,404 646,407 638.5,408.6 635.5,402 632,395.5" fill="#fff" stroke="#262626" stroke-width="1.23" stroke-linejoin="round" stroke-linecap="round"/>
<path d="M632 391L637.5 392.6 638.5 408.6M637.5 392.6L640 388.2 649 387M640.5 391L641.4 402.5 649.4 400.6 648.6 389M644.6 390L645.2 401.4" fill="none" stroke="#2a2a2a" stroke-width="1.01" stroke-linejoin="round" stroke-linecap="round"/>
<path d="M642 404L647.5 402.6 648 405.4 642.6 406.8Z" fill="none" stroke="#2a2a2a" stroke-width="1.01" stroke-linejoin="round" stroke-linecap="round"/>
<path d="M633.5 393L636.6 401M642.6 393L643 398M646.6 392.4L647 397.4" fill="none" stroke="#262626" stroke-width="0.9" stroke-linejoin="round" stroke-linecap="round"/>
<path d="M328.8 477.5L340.8 474.2C342.4 479 343.4 484.5 344 489.5L346 499.3 346.8 500.8 341.5 502.3 333.3 503.8 324.3 504.8 322 502.7 330.3 500.8C330.8 493 330.2 485 328.8 477.5Z" fill="#fff" stroke="#262626" stroke-width="1.12" stroke-linejoin="round" stroke-linecap="round"/>
<path d="M330.3 500.8L333.6 500.2C334 492 333.4 484 331.6 476.8M333.6 500.2L346 499.3M333.3 503.8L333.6 500.2" fill="none" stroke="#262626" stroke-width="0.9" stroke-linejoin="round" stroke-linecap="round"/>
<path d="M662.5 393.8L675 391.3C677.5 396.5 678.8 403 679.3 410L679.5 417.5 668.8 420 668.8 421.3 658.8 423 657 420.5 665.5 418C666 410 665 401 662.5 393.8Z" fill="#fff" stroke="#262626" stroke-width="1.12" stroke-linejoin="round" stroke-linecap="round"/>
<path d="M665.5 418L668.8 417.6C669.2 409 668 400 665.2 393.2M668.8 417.6L668.8 420" fill="none" stroke="#262626" stroke-width="0.9" stroke-linejoin="round" stroke-linecap="round"/>
<path d="M664.6 406L665.4 409.5M665.2 404L664.8 407" fill="none" stroke="#262626" stroke-width="1.34" stroke-linejoin="round" stroke-linecap="round"/>
<path d="M660 421.6L667.6 420.4" fill="none" stroke="#333" stroke-width="2.02" stroke-linejoin="round" stroke-linecap="round"/>
<path d="M69.2 428.9L73.4 430.6" fill="none" stroke="#1a1a1a" stroke-width="2.69" stroke-linejoin="round" stroke-linecap="round"/>
<path d="M69.4 430L69.4 436M73.6 431.6L73.6 436" fill="none" stroke="#444" stroke-width="1.01" stroke-linejoin="round" stroke-linecap="round"/>
<line x1="71.6" y1="432" x2="71.6" y2="435" stroke="#999" stroke-width="1.12" />
<path d="M69.2 436.2L73.8 436.2" fill="none" stroke="#1a1a1a" stroke-width="1.79" stroke-linejoin="round" stroke-linecap="round"/>
<line x1="69.4" y1="436" x2="69.4" y2="542.5" stroke="#3a3a3a" stroke-width="1.01" />
<line x1="73.7" y1="436" x2="73.7" y2="542.5" stroke="#3a3a3a" stroke-width="1.01" />
<rect x="68.6" y="542.5" width="5.8" height="36" fill="#6a6a6a" stroke="#333" stroke-width="0.8"/>
<line x1="70.2" y1="543" x2="70.2" y2="578" stroke="#555" stroke-width="0.78" />
<line x1="72.8" y1="543" x2="72.8" y2="578" stroke="#7a7a7a" stroke-width="0.78" />
<polygon points="69.4,576.4 105.4,567.8 107.6,569.6 107.6,572.6 71.6,580.8 69,579.2" fill="#fff" stroke="#444" stroke-width="1.01" stroke-linejoin="round" stroke-linecap="round"/>
<line x1="71.6" y1="578.2" x2="106.6" y2="570" stroke="#666" stroke-width="0.67" />
<ellipse cx="70.8" cy="578.4" rx="1.2" ry="1.2" fill="none" stroke="#262626" stroke-width="0.9"/>
<rect x="103" y="570.6" width="4.9" height="26.8" fill="#777" stroke="#333" stroke-width="0.8"/>
<line x1="105.4" y1="571" x2="105.4" y2="597" stroke="#444" stroke-width="0.67" />
<path d="M103 569L105.4 567.8 107.9 569.4" fill="none" stroke="#262626" stroke-width="0.9" stroke-linejoin="round" stroke-linecap="round"/>
<ellipse cx="111.4" cy="212.6" rx="12.7" ry="11.3" fill="none" stroke="#4338d8" stroke-width="1.0"/>
<path d="M0 3L3.6 0V10.5" transform="translate(106.27 207.92) scale(0.93)" fill="none" stroke="#4338d8" stroke-width="1.05" stroke-linecap="round" stroke-linejoin="round"/>
<path d="M2.8 0C1.1 0 0 1.4 0 3.2V7.3C0 9.1 1.1 10.5 2.8 10.5C4.5 10.5 5.6 9.1 5.6 7.3V3.2C5.6 1.4 4.5 0 2.8 0Z" transform="translate(111.32 207.92) scale(0.93)" fill="none" stroke="#4338d8" stroke-width="1.05" stroke-linecap="round" stroke-linejoin="round"/>
<ellipse cx="160" cy="212.5" rx="12.7" ry="11.3" fill="none" stroke="#4338d8" stroke-width="1.0"/>
<path d="M2.8 4.7C1.4 4.7 0.5 3.7 0.5 2.35C0.5 1 1.4 0 2.8 0C4.2 0 5.1 1 5.1 2.35C5.1 3.7 4.2 4.7 2.8 4.7C1.1 4.7 0 5.9 0 7.6C0 9.3 1.1 10.5 2.8 10.5C4.5 10.5 5.6 9.3 5.6 7.6C5.6 5.9 4.5 4.7 2.8 4.7Z" transform="translate(157.4 207.82) scale(0.93)" fill="none" stroke="#4338d8" stroke-width="1.05" stroke-linecap="round" stroke-linejoin="round"/>
<ellipse cx="251.2" cy="213.6" rx="12.7" ry="11.3" fill="none" stroke="#4338d8" stroke-width="1.0"/>
<path d="M5.2 0H0.8L0.3 4.6C1 4 1.8 3.7 2.8 3.7C4.5 3.7 5.6 5.1 5.6 7.1C5.6 9.1 4.4 10.5 2.8 10.5C1.3 10.5 0.3 9.6 0 8.4" transform="translate(248.6 208.92) scale(0.93)" fill="none" stroke="#4338d8" stroke-width="1.05" stroke-linecap="round" stroke-linejoin="round"/>
<ellipse cx="435" cy="162.5" rx="12.7" ry="11.3" fill="none" stroke="#4338d8" stroke-width="1.0"/>
<path d="M0.7 10.5C3.4 9.1 5.6 6.5 5.6 3.2C5.6 1.3 4.5 0 2.8 0C1.1 0 0 1.3 0 3.1C0 4.9 1.1 6.1 2.8 6.1C4.2 6.1 5.3 5.2 5.6 3.7" transform="translate(432.4 157.82) scale(0.93)" fill="none" stroke="#4338d8" stroke-width="1.05" stroke-linecap="round" stroke-linejoin="round"/>
<ellipse cx="475.8" cy="163.5" rx="12.7" ry="11.3" fill="none" stroke="#4338d8" stroke-width="1.0"/>
<path d="M0 3L3.6 0V10.5" transform="translate(470.67 158.82) scale(0.93)" fill="none" stroke="#4338d8" stroke-width="1.05" stroke-linecap="round" stroke-linejoin="round"/>
<path d="M2.8 0C1.1 0 0 1.4 0 3.2V7.3C0 9.1 1.1 10.5 2.8 10.5C4.5 10.5 5.6 9.1 5.6 7.3V3.2C5.6 1.4 4.5 0 2.8 0Z" transform="translate(475.72 158.82) scale(0.93)" fill="none" stroke="#4338d8" stroke-width="1.05" stroke-linecap="round" stroke-linejoin="round"/>
<ellipse cx="518.3" cy="271.8" rx="12.7" ry="11.3" fill="none" stroke="#4338d8" stroke-width="1.0"/>
<path d="M0 3L3.6 0V10.5" transform="translate(513.17 267.12) scale(0.93)" fill="none" stroke="#4338d8" stroke-width="1.05" stroke-linecap="round" stroke-linejoin="round"/>
<path d="M2.8 4.7C1.4 4.7 0.5 3.7 0.5 2.35C0.5 1 1.4 0 2.8 0C4.2 0 5.1 1 5.1 2.35C5.1 3.7 4.2 4.7 2.8 4.7C1.1 4.7 0 5.9 0 7.6C0 9.3 1.1 10.5 2.8 10.5C4.5 10.5 5.6 9.3 5.6 7.6C5.6 5.9 4.5 4.7 2.8 4.7Z" transform="translate(518.22 267.12) scale(0.93)" fill="none" stroke="#4338d8" stroke-width="1.05" stroke-linecap="round" stroke-linejoin="round"/>
<ellipse cx="478.8" cy="309.3" rx="12.7" ry="11.3" fill="none" stroke="#4338d8" stroke-width="1.0"/>
<path d="M0.2 0H5.3L2.4 4.2C4.3 4.1 5.6 5.3 5.6 7.3C5.6 9.2 4.4 10.5 2.8 10.5C1.3 10.5 0.3 9.6 0 8.3" transform="translate(476.2 304.62) scale(0.93)" fill="none" stroke="#4338d8" stroke-width="1.05" stroke-linecap="round" stroke-linejoin="round"/>
<ellipse cx="663.3" cy="301.3" rx="12.7" ry="11.3" fill="none" stroke="#4338d8" stroke-width="1.0"/>
<path d="M0 3L3.6 0V10.5" transform="translate(658.17 296.62) scale(0.93)" fill="none" stroke="#4338d8" stroke-width="1.05" stroke-linecap="round" stroke-linejoin="round"/>
<path d="M0.1 2.6C0.3 1 1.3 0 2.8 0C4.4 0 5.5 1 5.5 2.6C5.5 4 4.8 4.9 0 10.5H5.6" transform="translate(663.22 296.62) scale(0.93)" fill="none" stroke="#4338d8" stroke-width="1.05" stroke-linecap="round" stroke-linejoin="round"/>
<ellipse cx="743.8" cy="333.8" rx="12.7" ry="11.3" fill="none" stroke="#4338d8" stroke-width="1.0"/>
<path d="M0 3L3.6 0V10.5" transform="translate(738.67 329.12) scale(0.93)" fill="none" stroke="#4338d8" stroke-width="1.05" stroke-linecap="round" stroke-linejoin="round"/>
<path d="M4.9 0C2.2 1.4 0 4 0 7.3C0 9.2 1.1 10.5 2.8 10.5C4.5 10.5 5.6 9.2 5.6 7.4C5.6 5.6 4.5 4.4 2.8 4.4C1.4 4.4 0.3 5.3 0 6.8" transform="translate(743.72 329.12) scale(0.93)" fill="none" stroke="#4338d8" stroke-width="1.05" stroke-linecap="round" stroke-linejoin="round"/>
<ellipse cx="709" cy="372.8" rx="12.7" ry="11.3" fill="none" stroke="#4338d8" stroke-width="1.0"/>
<path d="M0 3L3.6 0V10.5" transform="translate(703.87 368.12) scale(0.93)" fill="none" stroke="#4338d8" stroke-width="1.05" stroke-linecap="round" stroke-linejoin="round"/>
<path d="M0.2 0H5.3L2.4 4.2C4.3 4.1 5.6 5.3 5.6 7.3C5.6 9.2 4.4 10.5 2.8 10.5C1.3 10.5 0.3 9.6 0 8.3" transform="translate(708.92 368.12) scale(0.93)" fill="none" stroke="#4338d8" stroke-width="1.05" stroke-linecap="round" stroke-linejoin="round"/>
<ellipse cx="143" cy="355" rx="12.7" ry="11.3" fill="none" stroke="#4338d8" stroke-width="1.0"/>
<path d="M0 3L3.6 0V10.5" transform="translate(137.87 350.32) scale(0.93)" fill="none" stroke="#4338d8" stroke-width="1.05" stroke-linecap="round" stroke-linejoin="round"/>
<path d="M2.8 4.7C1.4 4.7 0.5 3.7 0.5 2.35C0.5 1 1.4 0 2.8 0C4.2 0 5.1 1 5.1 2.35C5.1 3.7 4.2 4.7 2.8 4.7C1.1 4.7 0 5.9 0 7.6C0 9.3 1.1 10.5 2.8 10.5C4.5 10.5 5.6 9.3 5.6 7.6C5.6 5.9 4.5 4.7 2.8 4.7Z" transform="translate(142.92 350.32) scale(0.93)" fill="none" stroke="#4338d8" stroke-width="1.05" stroke-linecap="round" stroke-linejoin="round"/>
<ellipse cx="230" cy="363.8" rx="12.7" ry="11.3" fill="none" stroke="#4338d8" stroke-width="1.0"/>
<path d="M0.1 2.6C0.3 1 1.3 0 2.8 0C4.4 0 5.5 1 5.5 2.6C5.5 4 4.8 4.9 0 10.5H5.6" transform="translate(227.4 359.12) scale(0.93)" fill="none" stroke="#4338d8" stroke-width="1.05" stroke-linecap="round" stroke-linejoin="round"/>
<ellipse cx="385" cy="392" rx="12.7" ry="11.3" fill="none" stroke="#4338d8" stroke-width="1.0"/>
<path d="M0 3L3.6 0V10.5" transform="translate(379.87 387.32) scale(0.93)" fill="none" stroke="#4338d8" stroke-width="1.05" stroke-linecap="round" stroke-linejoin="round"/>
<path d="M0.7 10.5C3.4 9.1 5.6 6.5 5.6 3.2C5.6 1.3 4.5 0 2.8 0C1.1 0 0 1.3 0 3.1C0 4.9 1.1 6.1 2.8 6.1C4.2 6.1 5.3 5.2 5.6 3.7" transform="translate(384.92 387.32) scale(0.93)" fill="none" stroke="#4338d8" stroke-width="1.05" stroke-linecap="round" stroke-linejoin="round"/>
<ellipse cx="167" cy="420" rx="12.7" ry="11.3" fill="none" stroke="#4338d8" stroke-width="1.0"/>
<path d="M0 3L3.6 0V10.5" transform="translate(162.8 415.32) scale(0.93)" fill="none" stroke="#4338d8" stroke-width="1.05" stroke-linecap="round" stroke-linejoin="round"/>
<path d="M0 3L3.6 0V10.5" transform="translate(167.85 415.32) scale(0.93)" fill="none" stroke="#4338d8" stroke-width="1.05" stroke-linecap="round" stroke-linejoin="round"/>
<ellipse cx="182" cy="487.5" rx="12.7" ry="11.3" fill="none" stroke="#4338d8" stroke-width="1.0"/>
<path d="M0 3L3.6 0V10.5" transform="translate(176.87 482.82) scale(0.93)" fill="none" stroke="#4338d8" stroke-width="1.05" stroke-linecap="round" stroke-linejoin="round"/>
<path d="M4.9 0C2.2 1.4 0 4 0 7.3C0 9.2 1.1 10.5 2.8 10.5C4.5 10.5 5.6 9.2 5.6 7.4C5.6 5.6 4.5 4.4 2.8 4.4C1.4 4.4 0.3 5.3 0 6.8" transform="translate(181.92 482.82) scale(0.93)" fill="none" stroke="#4338d8" stroke-width="1.05" stroke-linecap="round" stroke-linejoin="round"/>
<ellipse cx="41.3" cy="511.3" rx="12.7" ry="11.3" fill="none" stroke="#4338d8" stroke-width="1.0"/>
<path d="M4.3 10.5V0L0 7.3H5.8" transform="translate(38.6 506.62) scale(0.93)" fill="none" stroke="#4338d8" stroke-width="1.05" stroke-linecap="round" stroke-linejoin="round"/>
<ellipse cx="318.8" cy="470" rx="12.7" ry="11.3" fill="none" stroke="#4338d8" stroke-width="1.0"/>
<path d="M0 3L3.6 0V10.5" transform="translate(313.67 465.32) scale(0.93)" fill="none" stroke="#4338d8" stroke-width="1.05" stroke-linecap="round" stroke-linejoin="round"/>
<path d="M0.2 0H5.3L2.4 4.2C4.3 4.1 5.6 5.3 5.6 7.3C5.6 9.2 4.4 10.5 2.8 10.5C1.3 10.5 0.3 9.6 0 8.3" transform="translate(318.72 465.32) scale(0.93)" fill="none" stroke="#4338d8" stroke-width="1.05" stroke-linecap="round" stroke-linejoin="round"/>
<ellipse cx="328" cy="563.8" rx="12.7" ry="11.3" fill="none" stroke="#4338d8" stroke-width="1.0"/>
<path d="M0 3L3.6 0V10.5" transform="translate(326.33 559.12) scale(0.93)" fill="none" stroke="#4338d8" stroke-width="1.05" stroke-linecap="round" stroke-linejoin="round"/>
<ellipse cx="438" cy="566.3" rx="12.7" ry="11.3" fill="none" stroke="#4338d8" stroke-width="1.0"/>
<path d="M0 3L3.6 0V10.5" transform="translate(432.78 561.62) scale(0.93)" fill="none" stroke="#4338d8" stroke-width="1.05" stroke-linecap="round" stroke-linejoin="round"/>
<path d="M4.3 10.5V0L0 7.3H5.8" transform="translate(437.83 561.62) scale(0.93)" fill="none" stroke="#4338d8" stroke-width="1.05" stroke-linecap="round" stroke-linejoin="round"/>
<ellipse cx="539.5" cy="566.3" rx="12.7" ry="11.3" fill="none" stroke="#4338d8" stroke-width="1.0"/>
<path d="M0 3L3.6 0V10.5" transform="translate(534.37 561.62) scale(0.93)" fill="none" stroke="#4338d8" stroke-width="1.05" stroke-linecap="round" stroke-linejoin="round"/>
<path d="M5.2 0H0.8L0.3 4.6C1 4 1.8 3.7 2.8 3.7C4.5 3.7 5.6 5.1 5.6 7.1C5.6 9.1 4.4 10.5 2.8 10.5C1.3 10.5 0.3 9.6 0 8.4" transform="translate(539.42 561.62) scale(0.93)" fill="none" stroke="#4338d8" stroke-width="1.05" stroke-linecap="round" stroke-linejoin="round"/>
<ellipse cx="625.8" cy="516.3" rx="12.7" ry="11.3" fill="none" stroke="#4338d8" stroke-width="1.0"/>
<path d="M0 3L3.6 0V10.5" transform="translate(620.58 511.62) scale(0.93)" fill="none" stroke="#4338d8" stroke-width="1.05" stroke-linecap="round" stroke-linejoin="round"/>
<path d="M4.3 10.5V0L0 7.3H5.8" transform="translate(625.63 511.62) scale(0.93)" fill="none" stroke="#4338d8" stroke-width="1.05" stroke-linecap="round" stroke-linejoin="round"/>
<ellipse cx="736.8" cy="516.3" rx="12.7" ry="11.3" fill="none" stroke="#4338d8" stroke-width="1.0"/>
<path d="M0 3L3.6 0V10.5" transform="translate(735.13 511.62) scale(0.93)" fill="none" stroke="#4338d8" stroke-width="1.05" stroke-linecap="round" stroke-linejoin="round"/>
<ellipse cx="487.5" cy="367.5" rx="12.7" ry="11.3" fill="none" stroke="#4338d8" stroke-width="1.0"/>
<path d="M0 0H5.6C4 3 2.8 6.5 2.2 10.5" transform="translate(484.9 362.82) scale(0.93)" fill="none" stroke="#4338d8" stroke-width="1.05" stroke-linecap="round" stroke-linejoin="round"/>
<ellipse cx="545" cy="443.8" rx="12.7" ry="11.3" fill="none" stroke="#4338d8" stroke-width="1.0"/>
<path d="M4.9 0C2.2 1.4 0 4 0 7.3C0 9.2 1.1 10.5 2.8 10.5C4.5 10.5 5.6 9.2 5.6 7.4C5.6 5.6 4.5 4.4 2.8 4.4C1.4 4.4 0.3 5.3 0 6.8" transform="translate(542.4 439.12) scale(0.93)" fill="none" stroke="#4338d8" stroke-width="1.05" stroke-linecap="round" stroke-linejoin="round"/>
<line x1="111.3" y1="224.2" x2="111.3" y2="278.4" stroke="#4338d8" stroke-width="1.0" />
<polygon points="111.3,289.4 109,278.4 113.6,278.4" fill="#1a14f0"/>
<line x1="160" y1="224.1" x2="160" y2="266.7" stroke="#4338d8" stroke-width="1.0" />
<polygon points="160,277.7 157.7,266.7 162.3,266.7" fill="#1a14f0"/>
<line x1="251.2" y1="225.2" x2="251.2" y2="239" stroke="#4338d8" stroke-width="1.0" />
<polygon points="251.2,250 248.9,239 253.5,239" fill="#1a14f0"/>
<line x1="435" y1="174.1" x2="434.65" y2="198" stroke="#4338d8" stroke-width="1.0" />
<polygon points="434.5,208.5 432.35,197.97 436.95,198.03" fill="#1a14f0"/>
<line x1="475.8" y1="175.1" x2="475.74" y2="189" stroke="#4338d8" stroke-width="1.0" />
<polygon points="475.7,199.5 473.44,188.99 478.04,189.01" fill="#1a14f0"/>
<line x1="505.3" y1="271.9" x2="484.5" y2="272.36" stroke="#4338d8" stroke-width="1.0" />
<polygon points="473.5,272.6 484.45,270.06 484.55,274.66" fill="#1a14f0"/>
<line x1="466" y1="310.6" x2="396.96" y2="316.48" stroke="#4338d8" stroke-width="1.0" />
<polygon points="385,317.5 396.76,314.19 397.15,318.77" fill="#1a14f0"/>
<line x1="650.3" y1="301" x2="585.3" y2="300.58" stroke="#4338d8" stroke-width="1.0" />
<polygon points="573.3,300.5 585.31,298.28 585.28,302.88" fill="#1a14f0"/>
<line x1="731.5" y1="337.6" x2="717.62" y2="342.5" stroke="#4338d8" stroke-width="1.0" />
<polygon points="706.3,346.5 716.85,340.34 718.38,344.67" fill="#1a14f0"/>
<line x1="696.6" y1="376.3" x2="674.27" y2="383.17" stroke="#4338d8" stroke-width="1.0" />
<polygon points="662.8,386.7 673.59,380.97 674.95,385.37" fill="#1a14f0"/>
<line x1="703.2" y1="383.2" x2="696.8" y2="394.28" stroke="#4338d8" stroke-width="1.0" />
<polygon points="691.3,403.8 694.81,393.12 698.79,395.43" fill="#1a14f0"/>
<line x1="155.3" y1="351.2" x2="168.01" y2="346.96" stroke="#4338d8" stroke-width="1.0" />
<polygon points="177.5,343.8 168.74,349.14 167.29,344.78" fill="#1a14f0"/>
<line x1="230" y1="352.2" x2="230" y2="347.3" stroke="#4338d8" stroke-width="1.0" />
<polygon points="230,336.3 232.3,347.3 227.7,347.3" fill="#1a14f0"/>
<line x1="375.5" y1="384.2" x2="362.97" y2="377.17" stroke="#4338d8" stroke-width="1.0" />
<polygon points="352.5,371.3 364.09,375.16 361.84,379.18" fill="#1a14f0"/>
<line x1="385.6" y1="380.4" x2="385.89" y2="371.3" stroke="#4338d8" stroke-width="1.0" />
<polygon points="386.2,361.3 388.18,371.37 383.59,371.22" fill="#1a14f0"/>
<line x1="179.6" y1="417" x2="209.77" y2="408.32" stroke="#4338d8" stroke-width="1.0" />
<polygon points="221.3,405 210.4,410.53 209.13,406.11" fill="#1a14f0"/>
<line x1="194.6" y1="484.6" x2="212.47" y2="478.36" stroke="#4338d8" stroke-width="1.0" />
<polygon points="223.8,474.4 213.33,480.81 211.61,475.9" fill="#1a14f0"/>
<line x1="53.6" y1="507.3" x2="70.72" y2="499.3" stroke="#4338d8" stroke-width="1.0" />
<polygon points="82.5,493.8 71.7,501.39 69.75,497.22" fill="#1a14f0"/>
<line x1="331.7" y1="468.4" x2="352.59" y2="461.88" stroke="#4338d8" stroke-width="1.0" />
<polygon points="365,458 353.37,464.36 351.82,459.39" fill="#1a14f0"/>
<line x1="326.5" y1="479.2" x2="334.16" y2="482.85" stroke="#4338d8" stroke-width="1.0" />
<polygon points="345,488 333.18,484.92 335.15,480.77" fill="#1a14f0"/>
<line x1="328" y1="552.2" x2="328" y2="547.8" stroke="#4338d8" stroke-width="1.0" />
<polygon points="328,536.8 330.3,547.8 325.7,547.8" fill="#1a14f0"/>
<line x1="438" y1="554.7" x2="438" y2="522.5" stroke="#4338d8" stroke-width="1.0" />
<polygon points="438,510.5 440.3,522.5 435.7,522.5" fill="#1a14f0"/>
<line x1="539.4" y1="554.7" x2="539.4" y2="523.8" stroke="#4338d8" stroke-width="1.0" />
<polygon points="539.4,512.8 541.7,523.8 537.1,523.8" fill="#1a14f0"/>
<line x1="625.8" y1="504.7" x2="625.8" y2="479" stroke="#4338d8" stroke-width="1.0" />
<polygon points="625.8,467 628.1,479 623.5,479" fill="#1a14f0"/>
<line x1="736.8" y1="504.7" x2="736.8" y2="453" stroke="#4338d8" stroke-width="1.0" />
<polygon points="736.8,441 739.1,453 734.5,453" fill="#1a14f0"/>
<line x1="487.5" y1="379.1" x2="487.5" y2="395" stroke="#4338d8" stroke-width="1.0" />
<polygon points="487.5,405 485.2,395 489.8,395" fill="#1a14f0"/>
<line x1="535.3" y1="451.5" x2="522.21" y2="457.5" stroke="#4338d8" stroke-width="1.0" />
<polygon points="511.3,462.5 521.25,455.41 523.17,459.59" fill="#1a14f0"/>
</svg>
<div style="position:absolute;left:2px;top:647px;width:778.5px;height:1px;background:#6e6e6e;"></div>
<div class="cap">THULE Omnistor 5102/VW</div>
<div class="code">VW 606-02</div>
</body></html>
